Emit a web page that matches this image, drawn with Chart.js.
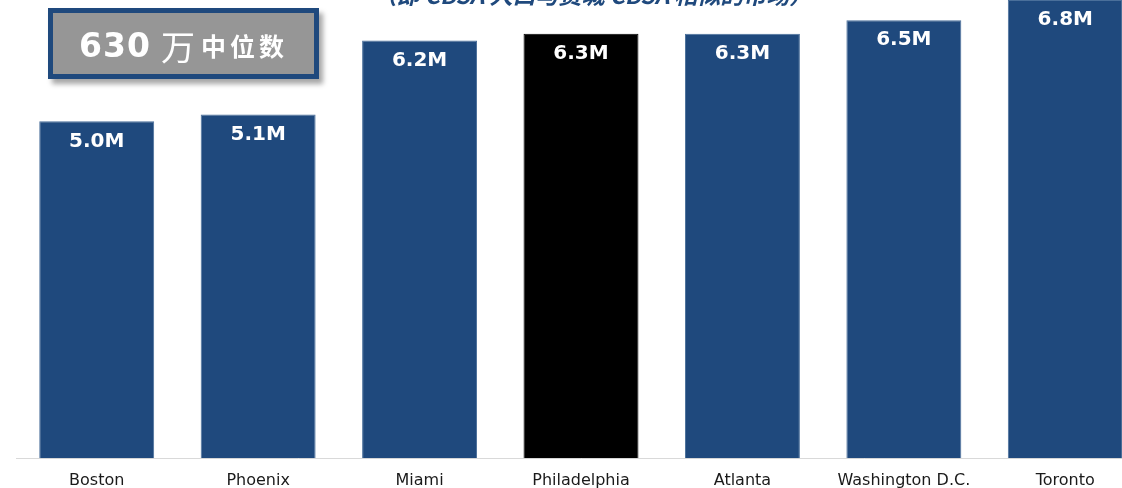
<!DOCTYPE html>
<html>
<head>
<meta charset="utf-8">
<script src="https://cdn.jsdelivr.net/npm/chart.js@4/dist/chart.umd.min.js"></script>
<style>
  html, body { margin: 0; padding: 0; background: #fff; overflow: hidden; }
  body { width: 1122px; height: 488px; position: relative; }
  #wrap { position: absolute; left: 0; top: 0; width: 1150px; height: 505px; }
  #subtitle {
    position: absolute; left: 0; top: -17px; width: 1186px; text-align: center;
    font-family: "Noto Sans CJK SC", sans-serif; font-weight: 700; font-style: italic;
    font-size: 23px; line-height: 23px; color: #1f497d; white-space: nowrap;
  }
  #median {
    position: absolute; left: 48px; top: 8px; width: 271px; height: 71px;
    box-sizing: border-box; border: 5px solid #1f497d; background: #969696;
    box-shadow: 4px 5px 5px rgba(0,0,0,0.35);
    color: #fff; display: flex; align-items: center; justify-content: center;
    white-space: nowrap; padding-top: 3px;
  }
  #median .num { font-family: "DejaVu Sans", sans-serif; font-weight: 700; font-size: 33px; letter-spacing: 1px; }
  #median .wan { font-family: "Noto Sans CJK SC", sans-serif; font-weight: 400; font-size: 34px; margin-left: 10px; }
  #median .lbl { font-family: "Noto Sans CJK SC", sans-serif; font-weight: 700; font-size: 25px; margin-left: 6px; letter-spacing: 4px; }
</style>
</head>
<body>
<div id="wrap"><canvas id="chart"></canvas></div>
<div id="subtitle">（即 CBSA 人口与费城 CBSA 相似的市场）</div>
<div id="median"><span class="num">630</span><span class="wan">万</span><span class="lbl">中位数</span></div>
<script>
// Metro areas and their CBSA populations (millions)
const cities = ["Boston", "Phoenix", "Miami", "Philadelphia", "Atlanta", "Washington D.C.", "Toronto"];
const population = [5.0, 5.1, 6.2, 6.3, 6.3, 6.5, 6.8];
const valueLabels = ["5.0M", "5.1M", "6.2M", "6.3M", "6.3M", "6.5M", "6.8M"];
const highlightCity = "Philadelphia";

const barColors = cities.map(c => c === highlightCity ? "#000000" : "#1f497d");

// White value labels inside the top of each bar
const valueLabelPlugin = {
  id: "valueLabels",
  afterDatasetsDraw(chart) {
    const ctx = chart.ctx;
    const meta = chart.getDatasetMeta(0);
    ctx.save();
    ctx.fillStyle = "#ffffff";
    ctx.font = "bold 20px 'DejaVu Sans'";
    ctx.textAlign = "center";
    ctx.textBaseline = "middle";
    meta.data.forEach((bar, i) => {
      ctx.fillText(valueLabels[i], bar.x, bar.y + 20);
    });
    ctx.restore();
  }
};

new Chart(document.getElementById("chart"), {
  type: "bar",
  data: {
    labels: cities,
    datasets: [{
      data: population,
      backgroundColor: barColors,
      borderColor: cities.map(c => c === highlightCity ? "#000000" : "#4a6f9a"),
      borderWidth: 1,
      barPercentage: 0.712,
      categoryPercentage: 1.0
    }]
  },
  options: {
    responsive: true,
    maintainAspectRatio: false,
    animation: false,
    layout: { padding: { left: 16, right: 4, top: 0, bottom: 1.5 } },
    plugins: { legend: { display: false }, tooltip: { enabled: false }, title: { display: false } },
    scales: {
      x: {
        grid: { display: false, drawTicks: false },
        border: { display: true, color: "#d9d9d9", width: 1 },
        ticks: {
          color: "#1a1a1a",
          font: { family: "'DejaVu Sans'", size: 16 },
          padding: 13,
          maxRotation: 0,
          autoSkip: false
        }
      },
      y: {
        display: false,
        min: 0,
        max: 6.8
      }
    }
  },
  plugins: [valueLabelPlugin]
});
</script>
</body>
</html>
